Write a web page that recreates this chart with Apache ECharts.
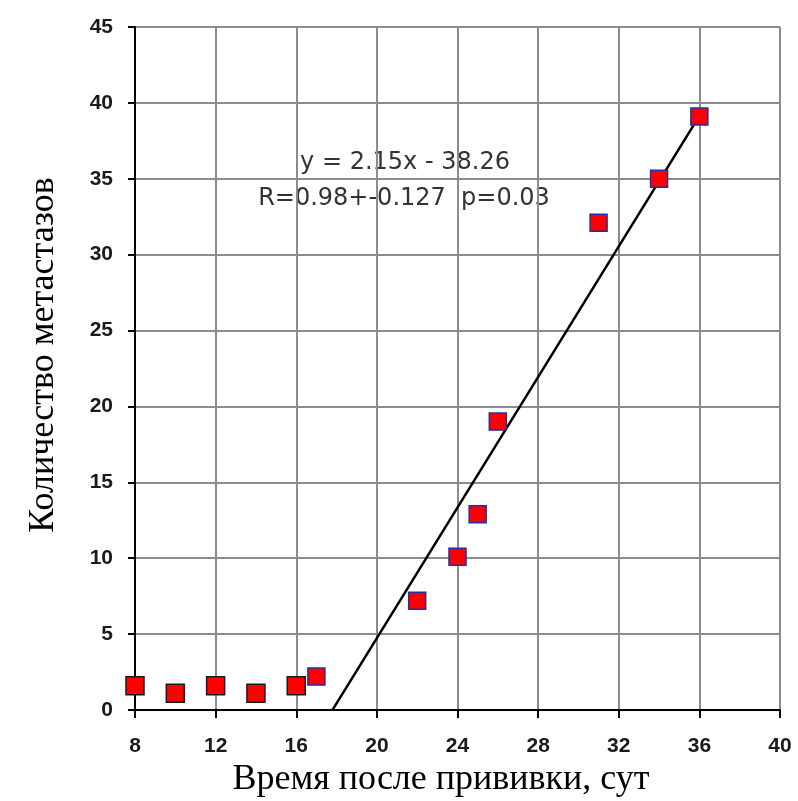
<!DOCTYPE html>
<html>
<head>
  <meta charset="utf-8" />
  <title>Metastases vs time</title>
  <style>
    html, body { margin: 0; padding: 0; background: #fff; }
    #main { width: 798px; height: 801px; }
  </style>
</head>
<body>
  <script src="https://cdn.jsdelivr.net/npm/echarts@6/dist/echarts.min.js"></script>
  <div id="main"></div>
  <script>
    // early points (black outline)
    var earlyDays = [8, 10, 12, 14, 16];
    var earlyCounts = [1.6, 1.1, 1.6, 1.1, 1.6];
    // later points (blue outline)
    var lateDays = [17, 22, 24, 25, 26, 31, 34, 36];
    var lateCounts = [2.2, 7.2, 10.1, 12.9, 19.0, 32.1, 35.0, 39.1];

    // regression y = 2.15x - 38.26
    var slope = 2.15;
    var intercept = -38.26;
    var trendFrom = 17.8;
    var trendTo = 36;

    var xTicks = [8, 12, 16, 20, 24, 28, 32, 36, 40];
    var yTicks = [0, 5, 10, 15, 20, 25, 30, 35, 40, 45];

    var xTitle = 'Время после прививки, сут';
    var yTitle = 'Количество метастазов';
    var eqLine1 = 'y = 2.15x - 38.26';
    var eqLine2 = 'R=0.98+-0.127  p=0.03';

    function pairs(xs, ys) {
      return xs.map(function (x, i) { return [x, ys[i]]; });
    }

    var chart = echarts.init(document.getElementById('main'));

    var tickLabel = {
      fontFamily: 'Liberation Sans',
      fontWeight: 'bold',
      fontSize: 21,
      color: '#1a1a1a'
    };

    var option = {
      animation: false,
      backgroundColor: '#fff',
      grid: { left: 135, right: 18, top: 27, bottom: 91 },
      xAxis: {
        type: 'value',
        min: xTicks[0],
        max: xTicks[xTicks.length - 1],
        interval: 4,
        axisLine: { show: true, lineStyle: { color: '#000', width: 2 } },
        axisTick: { show: true, length: 8, lineStyle: { color: '#000', width: 2 } },
        axisLabel: Object.assign({ margin: 26 }, tickLabel),
        splitLine: { show: true, lineStyle: { color: '#8c8c8c', width: 2 } }
      },
      yAxis: {
        type: 'value',
        min: yTicks[0],
        max: yTicks[yTicks.length - 1],
        interval: 5,
        axisLine: { show: true, lineStyle: { color: '#000', width: 2 } },
        axisTick: { show: true, length: 7, lineStyle: { color: '#000', width: 2 } },
        axisLabel: Object.assign({ margin: 22 }, tickLabel),
        splitLine: { show: true, lineStyle: { color: '#8c8c8c', width: 2 } }
      },
      series: [
        {
          type: 'line',
          data: [
            [trendFrom, slope * trendFrom + intercept],
            [trendTo, slope * trendTo + intercept]
          ],
          symbol: 'none',
          lineStyle: { color: '#000', width: 2.5 },
          z: 3
        },
        {
          type: 'scatter',
          data: pairs(earlyDays, earlyCounts),
          symbol: 'rect',
          symbolSize: 18,
          itemStyle: { color: '#ff0000', borderColor: '#1a1a1a', borderWidth: 1.5, opacity: 1 },
          z: 4
        },
        {
          type: 'scatter',
          data: pairs(lateDays, lateCounts),
          symbol: 'rect',
          symbolSize: 17,
          itemStyle: { color: '#ff0000', borderColor: '#2b2b9e', borderWidth: 1.5, opacity: 1 },
          z: 4
        }
      ],
      graphic: [
        {
          type: 'text',
          x: 441,
          y: 780,
          style: {
            text: xTitle,
            fontFamily: 'Liberation Serif',
            fontSize: 36,
            fill: '#000',
            align: 'center',
            verticalAlign: 'middle'
          }
        },
        {
          type: 'text',
          x: 44,
          y: 355,
          rotation: Math.PI / 2,
          style: {
            text: yTitle,
            fontFamily: 'Liberation Serif',
            fontSize: 36,
            fill: '#000',
            align: 'center',
            verticalAlign: 'middle'
          }
        },
        {
          type: 'text',
          x: 405,
          y: 163,
          style: {
            text: eqLine1,
            fontFamily: 'DejaVu Sans',
            fontSize: 24,
            fill: '#333',
            align: 'center',
            verticalAlign: 'middle'
          }
        },
        {
          type: 'text',
          x: 404,
          y: 199,
          style: {
            text: eqLine2,
            fontFamily: 'DejaVu Sans',
            fontSize: 24,
            fill: '#333',
            align: 'center',
            verticalAlign: 'middle'
          }
        }
      ]
    };

    chart.setOption(option);
  </script>
</body>
</html>
